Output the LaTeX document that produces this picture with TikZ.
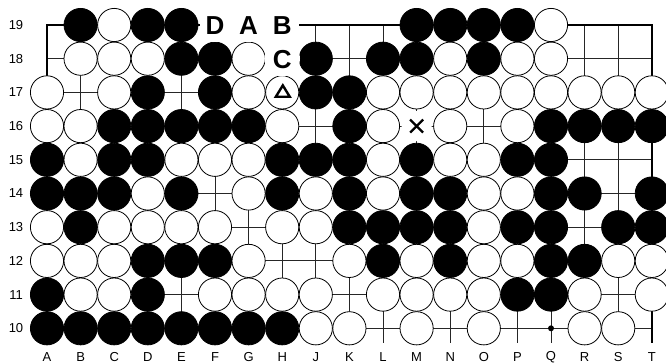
\documentclass[tikz,border=0pt]{standalone}
\usepackage{fontspec}
\setmainfont{Liberation Sans}
\tikzset{
  gridline/.style={line width=0.9pt,black!85},
  edgeline/.style={line width=2pt,black},
  bstone/.style={fill=black,draw=black,line width=0.8pt},
  wstone/.style={fill=white,draw=black,line width=0.8pt},
  coordlabel/.style={inner sep=0pt,font=\fontsize{13}{13}\selectfont},
  boardlabel/.style={inner sep=0pt,font=\bfseries\fontsize{26}{26}\selectfont},
  blank/.style={fill=white,draw=none}
}
\begin{document}
\begin{tikzpicture}[x=1pt,y=-1pt]
\useasboundingbox (0,0) rectangle (666,363);
% grid
\foreach \c in {1,...,17}
  \draw[gridline] ({47+33.6*\c},25) -- ({47+33.6*\c},343);
\foreach \r in {10,...,18}
  \draw[gridline] (47,{25+33.7*(19-\r)}) -- (651.8,{25+33.7*(19-\r)});
\draw[edgeline] (47,343) -- (47,25) -- (651.8,25) -- (651.8,343);
% hoshi
\fill ({47+33.6*15},{25+33.7*9}) circle (3);
% black stones
\foreach \r/\cols in {19/{1,3,4,11,12,13,14},18/{4,5,8,10,11,13},17/{3,5,8,9},
  16/{2,3,4,5,6,9,15,16,17,18},15/{0,2,3,7,8,9,11,14,15},
  14/{0,1,2,4,7,9,11,12,15,16,18},13/{1,9,10,11,12,14,15,17,18},
  12/{3,4,5,10,12,15,16},11/{0,3,14,15},10/{0,1,2,3,4,5,6,7}}
  \foreach \c in \cols
    \draw[bstone] ({47+33.6*\c},{25+33.7*(19-\r)}) circle (16.6);
% white stones
\foreach \r/\cols in {19/{2,15},18/{1,2,3,6,12,14,15},
  17/{0,2,6,7,10,11,12,13,14,15,16,17,18},16/{0,1,7,10,12,14},
  15/{1,4,5,6,10,12,13},14/{3,6,8,10,13,14},13/{0,2,3,4,5,7,8,13},
  12/{0,1,2,6,9,11,13,14,17,18},11/{1,2,5,6,7,8,10,11,12,13,16,18},
  10/{8,9,11,13,16,17}}
  \foreach \c in \cols
    \draw[wstone] ({47+33.6*\c},{25+33.7*(19-\r)}) circle (16.6);
% board labels
\fill[blank] (199.5,8) rectangle (298.5,42);
\fill[blank] ({47+33.6*7},{25+33.7}) circle (17.8);
\foreach \c/\r/\t in {5/19/D,6/19/A,7/19/B,7/18/C}
  \node[boardlabel] (lbl\t) at ({47+33.6*\c},{25+33.7*(19-\r)+0.5}) {\t};
% triangle on H17
\draw[line width=2.4pt,line join=miter] (282.8,85.4) -- (289.8,96.8) -- (275.8,96.8) -- cycle;
% cross at M16
\fill[blank] ({47+33.6*11},{25+33.7*3}) circle (15);
\coordinate (xm) at ({47+33.6*11},{25+33.7*3});
\draw[line width=2.4pt] ([shift={(-6.5,-6.5)}]xm) -- ([shift={(6.5,6.5)}]xm)
  ([shift={(-6.5,6.5)}]xm) -- ([shift={(6.5,-6.5)}]xm);
% row numbers
\foreach \r in {10,...,19}
  \node[coordlabel] (row\r) at (16,{25+33.7*(19-\r)}) {\r};
% column letters
\foreach \t [count=\i from 0] in {A,B,C,D,E,F,G,H,J,K,L,M,N,O,P,Q,R,S,T}
  \node[coordlabel] (col\t) at ({47+33.6*\i},357) {\t};
\end{tikzpicture}
\end{document}
